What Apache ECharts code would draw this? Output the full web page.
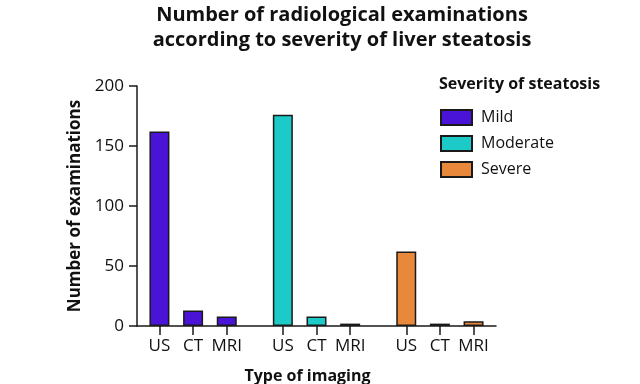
<!DOCTYPE html>
<html>
<head>
<meta charset="utf-8">
<script src="https://cdn.jsdelivr.net/npm/echarts@6/dist/echarts.min.js"></script>
<style>html,body{margin:0;padding:0;background:#fff}#c{width:640px;height:384px}</style>
</head>
<body>
<div id="c"></div>
<script>
var imaging = ['US', 'CT', 'MRI'];
var severity = ['Mild', 'Moderate', 'Severe'];
var mild = [162, 13, 8];
var moderate = [176, 8, 2];
var severe = [62, 2, 4];
var yTicks = [0, 50, 100, 150, 200];
var colors = ['#4a14d8', '#1ccbc7', '#e8883b'];

var values = [mild, moderate, severe];
// build slotted category axis: spacer slots give the group gaps
var axisCats = [];
var slotIndex = [];
function pushBlank(n){ for (var i=0;i<n;i++) axisCats.push(''); }
pushBlank(2);
severity.forEach(function(s, g){
  slotIndex.push([]);
  imaging.forEach(function(c, k){
    slotIndex[g].push(axisCats.length);
    axisCats.push(c);
    if (k < imaging.length - 1) pushBlank(2);
  });
  if (g < severity.length - 1) pushBlank(4);
});
pushBlank(2);

var series = severity.map(function(s, g){
  var d = axisCats.map(function(){ return null; });
  slotIndex[g].forEach(function(idx, k){ d[idx] = values[g][k]; });
  return {
    name: s, type: 'bar', data: d, barWidth: 20, barGap: '-100%',
    itemStyle: { color: colors[g], borderColor: '#1a1a1a', borderWidth: 1.5 }
  };
});

var font = '"Open Sans", "Noto Sans", sans-serif';
var chart = echarts.init(document.getElementById('c'), null, {renderer: 'canvas'});
chart.setOption({
  animation: false,
  textStyle: { fontFamily: font, color: '#111' },
  title: [
    { text: 'Number of radiological examinations\naccording to severity of liver steatosis',
      left: 342, top: 3, textAlign: 'center', padding: 0,
      textStyle: { fontFamily: font, fontSize: 20, fontWeight: 'bold', color: '#111', lineHeight: 25 } },
    { text: 'Severity of steatosis', left: 439, top: 76, padding: 0,
      textStyle: { fontFamily: font, fontSize: 16, fontWeight: 'bold', color: '#111' } }
  ],
  legend: {
    orient: 'vertical', left: 440, top: 109, padding: 0, itemWidth: 31, itemHeight: 15, itemGap: 9,
    icon: 'rect',
    textStyle: { fontFamily: font, fontSize: 16, color: '#111', padding: [0,0,0,4] },
    data: severity
  },
  grid: { left: 137, right: 144, top: 86, bottom: 58, outerBoundsMode: 'none', containLabel: false },
  xAxis: {
    type: 'category', data: axisCats, boundaryGap: false,
    name: 'Type of imaging', nameLocation: 'middle', nameGap: 42,
    nameTextStyle: { fontFamily: font, fontSize: 16, fontWeight: 'bold', color: '#111', padding: [0, 18, 0, 0] },
    axisLine: { lineStyle: { color: '#1a1a1a', width: 1.5 } },
    axisTick: { length: 9, lineStyle: { color: '#1a1a1a', width: 1.5 },
      interval: function(i, v){ return v !== ''; } },
    axisLabel: { interval: 0, margin: 12, fontSize: 17, color: '#111', fontFamily: font },
    splitLine: { show: false }
  },
  yAxis: {
    type: 'value', min: yTicks[0], max: yTicks[yTicks.length-1], interval: 50,
    name: 'Number of examinations', nameLocation: 'middle', nameGap: 50,
    nameTextStyle: { fontFamily: font, fontSize: 17, fontWeight: 'bold', color: '#111' },
    axisLine: { show: true, lineStyle: { color: '#1a1a1a', width: 1.5 } },
    axisTick: { show: true, length: 8, lineStyle: { color: '#1a1a1a', width: 1.5 } },
    axisLabel: { margin: 13, fontSize: 17, color: '#111', fontFamily: font },
    splitLine: { show: false }
  },
  series: series
});
</script>
</body>
</html>
